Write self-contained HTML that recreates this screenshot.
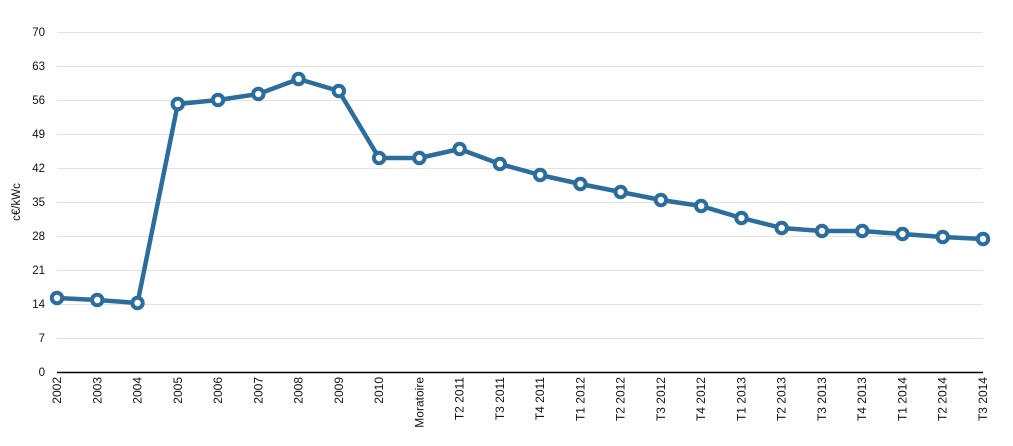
<!DOCTYPE html>
<html><head><meta charset="utf-8"><style>body{margin:0;background:#fff}svg{display:block}text{font-family:"Liberation Sans",sans-serif;font-size:11.5px;fill:#111}#xl text{font-size:12px}</style></head><body>
<svg width="1013" height="446" xmlns="http://www.w3.org/2000/svg">
<g stroke="#e3e3e3" stroke-width="1">
<line x1="57" x2="983" y1="32.5" y2="32.5"/><line x1="57" x2="983" y1="66.5" y2="66.5"/><line x1="57" x2="983" y1="100.5" y2="100.5"/><line x1="57" x2="983" y1="134.5" y2="134.5"/><line x1="57" x2="983" y1="168.5" y2="168.5"/><line x1="57" x2="983" y1="202.5" y2="202.5"/><line x1="57" x2="983" y1="236.5" y2="236.5"/><line x1="57" x2="983" y1="270.5" y2="270.5"/><line x1="57" x2="983" y1="304.5" y2="304.5"/><line x1="57" x2="983" y1="338.5" y2="338.5"/>
</g>
<line x1="57" x2="983" y1="372.5" y2="372.5" stroke="#000" stroke-width="1.5"/>
<g text-anchor="end">
<text x="45" y="36">70</text><text x="45" y="70">63</text><text x="45" y="104">56</text><text x="45" y="138">49</text><text x="45" y="172">42</text><text x="45" y="206">35</text><text x="45" y="240">28</text><text x="45" y="274">21</text><text x="45" y="308">14</text><text x="45" y="342">7</text><text x="45" y="376">0</text>
</g>
<text transform="translate(20,202) rotate(-90)" text-anchor="middle">c€/kWc</text>
<g id="xl" text-anchor="end"></g>
<polyline id="ln" fill="none" stroke="#2b6e9e" stroke-width="4.5" stroke-linejoin="round"/>
<g id="mk" fill="#fff" stroke="#2b6e9e" stroke-width="4"></g>
</svg>
<script>
var labels=["2002","2003","2004","2005","2006","2007","2008","2009","2010","Moratoire","T2 2011","T3 2011","T4 2011","T1 2012","T2 2012","T3 2012","T4 2012","T1 2013","T2 2013","T3 2013","T4 2013","T1 2014","T2 2014","T3 2014"];
var ys=[298,300,303,104,100,94,79,91,158,158,149,164,175,184,192,200,206,218,228,231,231,234,237,239];
var ns="http://www.w3.org/2000/svg",pts=[],xl=document.getElementById("xl"),mk=document.getElementById("mk");
for(var i=0;i<24;i++){var x=57+i*(926/23);pts.push(x+","+ys[i]);
var t=document.createElementNS(ns,"text");t.setAttribute("transform","translate("+(x+4)+",377) rotate(-90)");t.textContent=labels[i];xl.appendChild(t);
var c=document.createElementNS(ns,"circle");c.setAttribute("cx",x);c.setAttribute("cy",ys[i]);c.setAttribute("r",5.2);mk.appendChild(c);}
document.getElementById("ln").setAttribute("points",pts.join(" "));
</script>
</body></html>
